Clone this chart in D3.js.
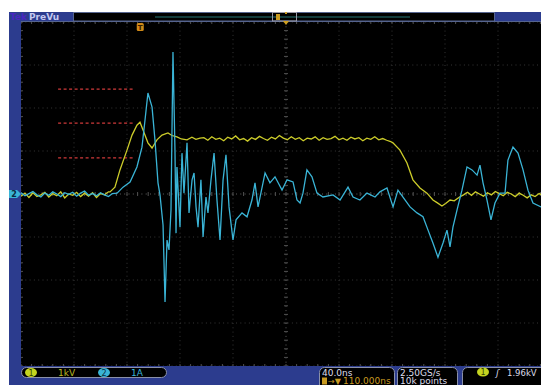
<!DOCTYPE html>
<html>
<head>
<meta charset="utf-8">
<script src="https://cdn.jsdelivr.net/npm/d3@7"></script>
<style>
  body { margin: 0; background: #fff; }
  svg { display: block; }
  text { font-family: "DejaVu Sans", sans-serif; }
</style>
</head>
<body>
<div id="chart"></div>
<script>
// time in ns after trigger, channel 1 in kV (1 kV/div), channel 2 in A (1 A/div)
const ch1 = [
  [-90,-0.05],[-87,0.02],[-84,-0.08],[-81,0.03],[-78,-0.06],[-75,-0.02],[-72,0.04],[-69,-0.07],
  [-66,0.01],[-63,-0.04],[-60,0.05],[-57,-0.09],[-54,0.00],[-51,-0.03],[-48,0.04],[-45,-0.06],
  [-42,0.02],[-39,-0.05],[-36,0.03],[-33,-0.08],[-30,0.01],[-27,-0.02],[-24,0.05],
  [-22.8,0.05],[-19.1,0.16],[-15.3,0.56],[-10,1.02],[-6.2,1.37],[-2.5,1.60],[-0.2,1.67],[2.1,1.49],
  [5.8,1.19],[8.9,1.07],[12.6,1.26],[16.4,1.37],[20.9,1.42],[24,1.36],[27.7,1.33],[31,1.28],
  [35.3,1.26],[39,1.32],[42,1.27],[45.1,1.30],
  [48,1.31],[51,1.25],[54,1.33],[57,1.27],[60,1.30],[63,1.24],[66,1.32],[69,1.28],[72,1.35],[75,1.26],
  [78,1.29],[81,1.23],[84,1.31],[87,1.27],[90,1.34],[93,1.29],[96,1.25],[99,1.32],[102,1.28],[105,1.36],
  [108,1.30],[111,1.26],[114,1.33],[117,1.27],[120,1.31],[123,1.24],[126,1.30],[129,1.28],[132,1.33],
  [135,1.25],[138,1.31],[141,1.27],[144,1.29],[147,1.34],[150,1.26],[153,1.30],[156,1.25],[159,1.32],
  [162,1.28],[165,1.31],[168,1.24],[171,1.30],[174,1.27],[177,1.33],[180,1.26],[183,1.29],[186,1.25],[189,1.22],
  [190.7,1.19],[196,1.02],[201.3,0.72],[205.8,0.33],[211.1,0.14],[216.4,0.02],[220.9,-0.14],[224,-0.20],
  [227.7,-0.28],[230.5,-0.22],[233.8,-0.14],[237,-0.16],
  [241,-0.07],[244,-0.02],[247,0.04],[250,-0.03],[253,0.05],[256,0.00],[259,-0.05],[262,0.03],
  [265,-0.02],[268,0.06],[271,0.01],[274,-0.04],[277,0.04],[280,0.00],[283,-0.06],[286,0.02],
  [289,-0.03],[292,-0.09],[295,-0.02],[298,-0.06],[301,0.01],[304,-0.04],[307,-0.01],[310,-0.05]
];

const ch2 = [
  [-90,0.03],[-87,-0.04],[-84,0.01],[-81,0.06],[-78,-0.02],[-75,-0.07],[-72,0.02],[-69,-0.03],
  [-66,0.05],[-63,0.00],[-60,-0.06],[-57,0.03],[-54,-0.01],[-51,0.04],[-48,-0.05],[-45,0.02],
  [-42,0.07],[-39,-0.03],[-36,0.01],[-33,-0.04],[-30,0.03],[-27,-0.02],[-24,-0.06],[-21,0.01],
  [-17.5,0.02],[-13,0.16],[-7.7,0.28],[-2.5,0.63],[1.3,1.09],[3.6,1.72],[5.8,2.35],[8.9,2.02],
  [11.1,1.26],[13.4,0.26],[14.9,-0.02],[17.2,-0.72],[18.7,-2.51],[20.2,-1.07],[21.7,-1.30],[23.2,-0.37],
  [24.7,3.30],[26.2,1.02],[27.0,-0.91],[27.7,0.63],[30.0,-0.77],[31.5,0.95],[33.0,0.02],[35.3,1.19],
  [36.8,-0.44],[39.1,0.33],[40.6,0.49],[42.1,-0.30],[43.6,-0.77],[45.8,0.33],[47.4,-1.00],[49.6,-0.07],
  [51.1,-0.44],[53.4,0.33],[55.7,0.95],[57.9,-0.14],[60.2,-1.07],[62.5,0.33],[64.7,0.91],[67.0,-0.30],
  [70.0,-1.07],[72.3,-0.60],[76.8,-0.44],[80.6,-0.53],[84.3,-0.14],[86.6,0.26],[88.9,-0.30],[94.2,0.49],
  [97.9,0.26],[101.7,0.40],[107.0,0.09],[110.8,0.33],[115.3,0.28],[118.3,-0.14],[120.6,-0.21],[122.8,0.02],
  [125.8,0.56],[129.6,0.40],[133.4,0.02],[137.9,-0.07],[145.5,-0.02],[150.8,-0.14],[156.8,0.16],[160.6,-0.07],
  [165.8,-0.14],[171.1,0.02],[177.2,-0.07],[180.9,0.05],[186.2,0.14],[190.8,-0.30],[194.5,0.09],[198.3,-0.07],
  [203.6,-0.30],[208.9,-0.44],[213.4,-0.53],[217.2,-0.84],[220.9,-1.14],[224.7,-1.47],[228.5,-1.14],[231.5,-0.84],
  [233.8,-1.23],[236.0,-0.77],[239.1,-0.37],[242.8,0.09],[246.6,0.63],[250.4,0.56],[254.2,0.44],[256.4,0.67],
  [258.7,0.26],[261.7,-0.14],[264.7,-0.60],[267.7,-0.21],[271.5,0.02],[275.3,0.02],[277.5,0.79],[281.3,1.09],
  [285.1,0.95],[288.9,0.56],[292.6,0.09],[296.4,-0.21],[302.5,-0.30],[310,-0.35]
];

// red dashed reference levels (kV) and their time span
const refLevels = [2.44, 1.65, 0.84];
const refSpan = [-62, -5];

const timeDomain = [-90, 310];   // 40 ns/div, 10 div
const divDomain = [-4, 4];       // 8 div vertical

const W = 541, H = 385;
const plot = { left: 21, right: 551, top: 22, bottom: 366 };

const svg = d3.select('#chart').append('svg')
  .attr('width', W)
  .attr('height', H);

// blue instrument frame
svg.append('rect').attr('x', 9).attr('y', 12).attr('width', W - 9).attr('height', H - 12).attr('fill', '#2c3c8e');

const x = d3.scaleLinear().domain(timeDomain).range([plot.left, plot.right]);
const y = d3.scaleLinear().domain(divDomain).range([plot.bottom, plot.top]);

svg.append('defs').append('clipPath').attr('id', 'clip')
  .append('rect')
  .attr('x', plot.left).attr('y', plot.top)
  .attr('width', plot.right - plot.left).attr('height', plot.bottom - plot.top);

svg.append('rect')
  .attr('x', plot.left).attr('y', plot.top)
  .attr('width', plot.right - plot.left).attr('height', plot.bottom - plot.top)
  .attr('fill', '#000');

const g = svg.append('g').attr('clip-path', 'url(#clip)');

// grid
const vTicks = d3.range(timeDomain[0], timeDomain[1] + 1, 40);
const hTicks = d3.range(divDomain[0], divDomain[1] + 1, 1);
const centerT = 110;

g.append('g').selectAll('line').data(vTicks).join('line')
  .attr('x1', d => x(d)).attr('x2', d => x(d))
  .attr('y1', plot.top).attr('y2', plot.bottom)
  .attr('stroke', d => d === centerT ? '#5e5e5e' : '#353535')
  .attr('stroke-dasharray', '1,3.3');

g.append('g').selectAll('line').data(hTicks).join('line')
  .attr('x1', plot.left).attr('x2', plot.right)
  .attr('y1', d => y(d)).attr('y2', d => y(d))
  .attr('stroke', d => d === 0 ? '#5e5e5e' : '#353535')
  .attr('stroke-dasharray', '1,3.3');

// minor ticks on centre lines and borders
const minorT = d3.range(timeDomain[0], timeDomain[1] + 0.1, 8);
const minorV = d3.range(divDomain[0], divDomain[1] + 0.01, 0.2);
const tickG = g.append('g').attr('stroke', '#505050');
tickG.selectAll('.tc').data(minorT).join('line')
  .attr('x1', d => x(d)).attr('x2', d => x(d))
  .attr('y1', y(0) - 2).attr('y2', y(0) + 2);
tickG.selectAll('.tt').data(minorT).join('line')
  .attr('x1', d => x(d)).attr('x2', d => x(d))
  .attr('y1', plot.top).attr('y2', plot.top + 2);
tickG.selectAll('.tb').data(minorT).join('line')
  .attr('x1', d => x(d)).attr('x2', d => x(d))
  .attr('y1', plot.bottom - 2).attr('y2', plot.bottom);
tickG.selectAll('.vc').data(minorV).join('line')
  .attr('x1', x(centerT) - 2).attr('x2', x(centerT) + 2)
  .attr('y1', d => y(d)).attr('y2', d => y(d));
tickG.selectAll('.vl').data(minorV).join('line')
  .attr('x1', plot.left).attr('x2', plot.left + 2)
  .attr('y1', d => y(d)).attr('y2', d => y(d));

// reference dashed lines
g.append('g').selectAll('line').data(refLevels).join('line')
  .attr('x1', x(refSpan[0])).attr('x2', x(refSpan[1]))
  .attr('y1', d => y(d)).attr('y2', d => y(d))
  .attr('stroke', '#d03a3a')
  .attr('stroke-width', 1.3)
  .attr('stroke-dasharray', '3,2.5');

const line = d3.line().x(d => x(d[0])).y(d => y(d[1]));

g.append('path').datum(ch1)
  .attr('d', line)
  .attr('fill', 'none')
  .attr('stroke', '#cccc2a')
  .attr('stroke-width', 1.3);

g.append('path').datum(ch2)
  .attr('d', line)
  .attr('fill', 'none')
  .attr('stroke', '#3ab4d6')
  .attr('stroke-width', 1.3);

// trigger marker in plot
const trig = svg.append('g').attr('transform', `translate(${x(0)},${plot.top + 5})`);
trig.append('rect').attr('x', -3.5).attr('y', -4).attr('width', 7).attr('height', 8).attr('rx', 1.5).attr('fill', '#d08a18');
trig.append('text').attr('y', 3).attr('text-anchor', 'middle').attr('font-size', 7).attr('font-weight', 'bold').attr('fill', '#3a2000').text('T');

// channel 2 ground marker
const gm = svg.append('g').attr('transform', `translate(14,${y(0)})`);
gm.append('path').attr('d', 'M-5,-4 L3,-4 L7,0 L3,4 L-5,4 Z').attr('fill', '#3ab4d6');
gm.append('text').attr('x', 0).attr('y', 3).attr('text-anchor', 'middle').attr('font-size', 8).attr('font-weight', 'bold').attr('fill', '#0a2a40').text('2');

// top PreVu bar
svg.append('line').attr('x1', 21).attr('x2', W).attr('y1', 21.5).attr('y2', 21.5).attr('stroke', '#55648f');
svg.append('text').attr('x', 10).attr('y', 19.5).attr('font-size', 9).attr('font-weight', 'bold').attr('fill', '#4a26c0').text('Tek');
svg.append('text').attr('x', 29).attr('y', 19.5).attr('font-size', 9).attr('font-weight', 'bold').attr('fill', '#c4c8f0').text('PreVu');
svg.append('rect').attr('x', 73.5).attr('y', 12.5).attr('width', 421).attr('height', 8.5).attr('fill', '#000').attr('stroke', '#56658f');
svg.append('line').attr('x1', 155).attr('x2', 410).attr('y1', 17).attr('y2', 17).attr('stroke', '#247676').attr('stroke-width', 1.2);
svg.append('rect').attr('x', 272.5).attr('y', 12.5).attr('width', 24).attr('height', 8.5).attr('fill', 'none').attr('stroke', '#9a9aa8');
svg.append('rect').attr('x', 276).attr('y', 14).attr('width', 4).attr('height', 6).attr('fill', '#c89a20');
svg.append('path').attr('d', `M${x(centerT) - 3},21 L${x(centerT) + 3},21 L${x(centerT)},25 Z`).attr('fill', '#d0a020');
svg.append('rect').attr('x', x(centerT) - 1).attr('y', 12).attr('width', 2).attr('height', 2).attr('fill', '#d0a020');

// bottom readouts
const bot = svg.append('g');
bot.append('rect').attr('x', 21.5).attr('y', 367.5).attr('width', 145).attr('height', 10).attr('rx', 5)
  .attr('fill', '#000').attr('stroke', '#8a90a8');
bot.append('ellipse').attr('cx', 31).attr('cy', 372.5).attr('rx', 6).attr('ry', 4.5).attr('fill', '#c4d420');
bot.append('text').attr('x', 31).attr('y', 375.5).attr('text-anchor', 'middle').attr('font-size', 8).attr('fill', '#304000').text('1');
bot.append('text').attr('x', 58).attr('y', 375.5).attr('font-size', 9).attr('fill', '#b8b822').text('1kV');
bot.append('ellipse').attr('cx', 104).attr('cy', 372.5).attr('rx', 6).attr('ry', 4.5).attr('fill', '#3ab4d6');
bot.append('text').attr('x', 104).attr('y', 375.5).attr('text-anchor', 'middle').attr('font-size', 8).attr('fill', '#0a2a40').text('2');
bot.append('text').attr('x', 131).attr('y', 375.5).attr('font-size', 9).attr('fill', '#3ab4d6').text('1A');

const boxes = [[319, 75], [397, 60], [462, 90]];
bot.selectAll('.box').data(boxes).join('rect')
  .attr('x', d => d[0] + 0.5).attr('y', 367.5).attr('width', d => d[1]).attr('height', 25).attr('rx', 5)
  .attr('fill', '#000').attr('stroke', '#8a90a8');

bot.append('text').attr('x', 322).attr('y', 375.5).attr('font-size', 9).attr('fill', '#dcdcea').text('40.0ns');
bot.append('rect').attr('x', 322).attr('y', 377.5).attr('width', 5).attr('height', 7).attr('fill', '#c89a20');
bot.append('text').attr('x', 328).attr('y', 384).attr('font-size', 8).attr('fill', '#c89a20').text('→▼');
bot.append('text').attr('x', 343).attr('y', 384).attr('font-size', 9).attr('fill', '#c89a20').text('110.000ns');
bot.append('text').attr('x', 400).attr('y', 375.5).attr('font-size', 9).attr('fill', '#dcdcea').text('2.50GS/s');
bot.append('text').attr('x', 400).attr('y', 384).attr('font-size', 9).attr('fill', '#dcdcea').text('10k points');
bot.append('ellipse').attr('cx', 483).attr('cy', 372).attr('rx', 6).attr('ry', 4.5).attr('fill', '#c4d420');
bot.append('text').attr('x', 483).attr('y', 375).attr('text-anchor', 'middle').attr('font-size', 8).attr('fill', '#304000').text('1');
bot.append('text').attr('x', 496).attr('y', 375.5).attr('font-size', 9).attr('font-style', 'italic').attr('fill', '#dcdcea').text('ʃ');
bot.append('text').attr('x', 507).attr('y', 375.5).attr('font-size', 8.5).attr('fill', '#dcdcea').text('1.96kV');
</script>
</body>
</html>
